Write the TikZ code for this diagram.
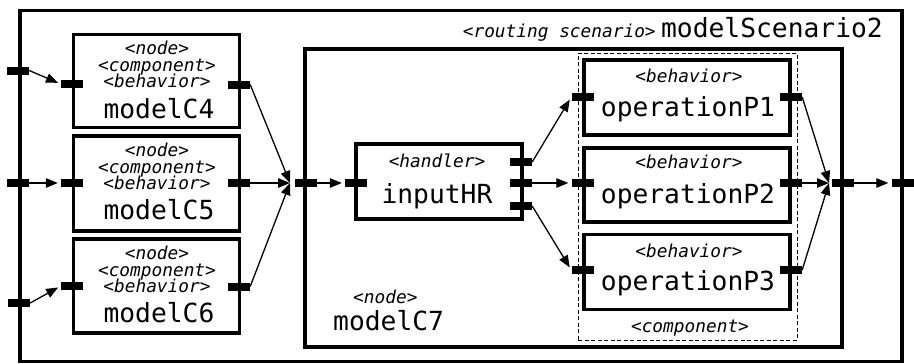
\documentclass[tikz,border=0pt]{standalone}
\usepackage{fontspec}
\newfontfamily\dmono{DejaVu Sans Mono}
\usetikzlibrary{arrows.meta}
\tikzset{
 frame/.style={draw, line width=3.2pt, inner sep=0pt, fill=none},
 dframe/.style={draw, line width=1pt, dash pattern=on 4pt off 2.5pt, inner sep=0pt},
 port/.style={fill=black, draw=none, minimum width=22pt, minimum height=8pt, inner sep=0pt},
 st/.style={font=\dmono\itshape\fontsize{17.8}{18}\selectfont, inner sep=0pt, anchor=base},
 nm/.style={font=\dmono\fontsize{26.3}{27}\selectfont, inner sep=0pt, anchor=base},
 flow/.style={line width=1.3pt, -{Triangle[length=12pt,width=9.5pt]}, shorten >=3pt},
}
\begin{document}
\begin{tikzpicture}[x=1pt,y=-1pt]
\useasboundingbox (0,0) rectangle (914,364);
% frames
\node[frame, minimum width=882pt, minimum height=351pt] (outer) at (461,186) {};
\node[frame, minimum width=537pt, minimum height=298pt] (C7) at (573.5,198) {};
\node[dframe, minimum width=219pt, minimum height=287pt] (comp) at (687.5,196.5) {};
\node[frame, minimum width=166pt, minimum height=93pt] (C4) at (156.5,81) {};
\node[frame, minimum width=166pt, minimum height=95pt] (C5) at (156.5,183.5) {};
\node[frame, minimum width=166pt, minimum height=94pt] (C6) at (156.5,286) {};
\node[frame, minimum width=166pt, minimum height=75pt] (HR) at (439,181.5) {};
\node[frame, minimum width=206pt, minimum height=75pt] (P1) at (687,97.5) {};
\node[frame, minimum width=206pt, minimum height=74pt] (P2) at (687,185) {};
\node[frame, minimum width=206pt, minimum height=75pt] (P3) at (687,272) {};
% texts
\node[nm, anchor=base east] (sc2) at (883,37) {modelScenario2};
\node[st, anchor=base east] (rs) at ([xshift=-5pt]sc2.base west) {<routing scenario>};
\node[st] (c4a) at (157,54) {<node>};
\node[st] (c4b) at (157,71) {<component>};
\node[st] (c4c) at (157,87) {<behavior>};
\node[nm] (c4d) at (159,118) {modelC4};
\node[st] (c5a) at (157,156) {<node>};
\node[st] (c5b) at (157,173) {<component>};
\node[st] (c5c) at (157,189) {<behavior>};
\node[nm] (c5d) at (159,219) {modelC5};
\node[st] (c6a) at (157,259) {<node>};
\node[st] (c6b) at (157,276) {<component>};
\node[st] (c6c) at (157,292) {<behavior>};
\node[nm] (c6d) at (159,322) {modelC6};
\node[st] (hra) at (437,167) {<handler>};
\node[nm] (hrb) at (437,203) {inputHR};
\node[st] (p1a) at (689,82) {<behavior>};
\node[nm] (p1b) at (688,116) {operationP1};
\node[st] (p2a) at (689,168) {<behavior>};
\node[nm] (p2b) at (688,203) {operationP2};
\node[st] (p3a) at (689,257) {<behavior>};
\node[nm] (p3b) at (688,290) {operationP3};
\node[st] (compl) at (690,332) {<component>};
\node[st, anchor=base west] (c7a) at (353,303) {<node>};
\node[nm, anchor=base west] (c7b) at (333,330) {modelC7};
% ports
\node[port] (o1) at (18,70.5) {};
\node[port] (o2) at (18,183) {};
\node[port] (o3) at (19,303) {};
\node[port] (c4i) at (72,84) {};
\node[port] (c4o) at (239,84.5) {};
\node[port] (c5i) at (72,183) {};
\node[port] (c5o) at (239,183) {};
\node[port] (c6i) at (72,286) {};
\node[port] (c6o) at (239,286.5) {};
\node[port] (c7i) at (305.5,183) {};
\node[port] (hri) at (356,183) {};
\node[port] (h1) at (521,162) {};
\node[port] (h2) at (521,183) {};
\node[port] (h3) at (521,206) {};
\node[port] (p1i) at (582.5,97) {};
\node[port] (p2i) at (582.5,183) {};
\node[port] (p3i) at (582.5,270) {};
\node[port] (p1o) at (791,97) {};
\node[port] (p2o) at (791,183) {};
\node[port] (p3o) at (791,270) {};
\node[port] (c7o) at (842.5,183) {};
\node[port] (or) at (902.5,183) {};
\coordinate (J1) at (290,183);
\coordinate (J2) at (829,183);
% connectors
\draw[flow] (o1.east) -- (c4i.west);
\draw[flow] (o2.east) -- (c5i.west);
\draw[flow] (o3.east) -- (c6i.west);
\draw[flow, shorten >=0pt] (c4o.east) -- (J1);
\draw[flow, shorten >=0pt] (c5o.east) -- (J1);
\draw[flow, shorten >=0pt] (c6o.east) -- (J1);
\draw[flow] (c7i.east) -- (hri.west);
\draw[flow] (h1.east) -- (p1i.west);
\draw[flow] (h2.east) -- (p2i.west);
\draw[flow] (h3.east) -- (p3i.west);
\draw[flow, shorten >=0pt] (p1o.east) -- (J2);
\draw[flow, shorten >=0pt] (p2o.east) -- (J2);
\draw[flow, shorten >=0pt] (p3o.east) -- (J2);
\draw[flow] (c7o.east) -- (or.west);
\end{tikzpicture}
\end{document}
